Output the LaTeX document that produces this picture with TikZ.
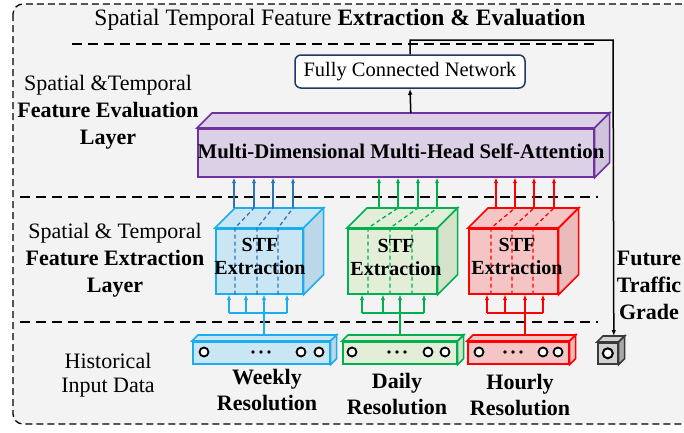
\documentclass[tikz,border=0pt]{standalone}
\usepackage{fontspec}
\setmainfont{Liberation Serif}
\usetikzlibrary{arrows.meta,calc}
\definecolor{bgc}{HTML}{F3F3F3}
\definecolor{bline}{HTML}{1AAEEE}
\definecolor{bfill}{HTML}{CAE6F4}
\definecolor{bside}{HTML}{BCD8E8}
\definecolor{barrow}{HTML}{2E75B6}
\definecolor{gline}{HTML}{00B050}
\definecolor{gfill}{HTML}{E2EED8}
\definecolor{gside}{HTML}{D5E3CA}
\definecolor{rline}{HTML}{FF0000}
\definecolor{rfill}{HTML}{F5C5C5}
\definecolor{rside}{HTML}{EBBBBB}
\definecolor{pline}{HTML}{7030A0}
\definecolor{pfill}{HTML}{DBD0E6}
\definecolor{pside}{HTML}{CFC4DC}
\definecolor{fcline}{HTML}{1F3864}
\definecolor{gyfill}{HTML}{C6C6C6}
\definecolor{gyline}{HTML}{3A3A3A}
% #1 name, #2 x, #3 y, #4 width, #5 height, #6 depth, #7 line, #8 fill, #9 side fill
\newcommand\mkcuboid[9]{%
  \node[draw=#7, fill=#8, line width=1.6pt, minimum width=#4pt, minimum height=#5pt,
        inner sep=0pt, anchor=north west] (#1) at (#2,#3) {};
  \draw[draw=#7, fill=#8, line width=1.6pt]
    (#1.north west) -- ++(#6,-#6) -- ($(#1.north east)+(#6,-#6)$) -- (#1.north east) -- cycle;
  \draw[draw=#7, fill=#9, line width=1.6pt]
    (#1.north east) -- ++(#6,-#6) -- ($(#1.south east)+(#6,-#6)$) -- (#1.south east) -- cycle;
}
\begin{document}
\begin{tikzpicture}[x=1pt,y=-1pt,
  sepline/.style={line width=2pt, dash pattern=on 10pt off 6pt},
  lbl/.style={align=center, font=\fontsize{22}{27}\selectfont, inner sep=0pt},
  conn/.style={line width=1.5pt, -{Latex[length=6pt,width=4.5pt]}},
  upar/.style={line width=1.6pt, -{Latex[length=5.5pt,width=4.5pt]}},
  inner dash/.style={line width=1.3pt, dash pattern=on 4pt off 3pt},
  io/.style={circle, draw=black, fill=white, line width=1.8pt, minimum size=9pt, inner sep=0pt},
  dotn/.style={circle, fill=black, minimum size=3.6pt, inner sep=0pt},
  stf/.style={align=center, font=\fontsize{20}{23}\selectfont\bfseries, inner sep=0pt}]
\useasboundingbox (0,0) rectangle (684,432);
\clip (0,0) rectangle (684,432);
% background frame
\draw[fill=bgc, line width=1.3pt, dash pattern=on 7pt off 4pt, rounded corners=10pt]
  (13,4) rectangle (720,424);
% separators
\coordinate (s1a) at (72,44);  \coordinate (s1b) at (598,44);
\coordinate (s2a) at (20,197); \coordinate (s2b) at (598,197);
\coordinate (s3a) at (20,322); \coordinate (s3b) at (598,322);
\draw[sepline] (s1a) -- (s1b);
\draw[sepline] (s2a) -- (s2b);
\draw[sepline] (s3a) -- (s3b);
% title and side labels
\node[inner sep=0pt, font=\fontsize{23.5}{27}\selectfont] (title) at (340,20)
  {Spatial Temporal Feature \textbf{Extraction \& Evaluation}};
\node[lbl] (lab1) at (108,112) {Spatial \&Temporal\\\textbf{Feature Evaluation}\\\textbf{Layer}};
\node[lbl] (lab2) at (115,260) {Spatial \& Temporal\\\textbf{Feature Extraction}\\\textbf{Layer}};
\node[lbl, font=\fontsize{22}{24}\selectfont] (lab3) at (108,375) {Historical\\Input Data};
\node[lbl, font=\fontsize{22}{26}\selectfont\bfseries] (wk) at (267,390) {Weekly\\Resolution};
\node[lbl, font=\fontsize{22}{26}\selectfont\bfseries] (dy) at (397,394) {Daily\\Resolution};
\node[lbl, font=\fontsize{22}{26}\selectfont\bfseries] (hr) at (520,395) {Hourly\\Resolution};
\node[lbl, font=\fontsize{22}{27}\selectfont\bfseries] (fut) at (649,285) {Future\\Traffic\\Grade};
% fully connected network
\node[draw=fcline, fill=white, line width=1.5pt, rounded corners=6pt, minimum width=230pt,
      minimum height=33pt, inner sep=0pt, font=\fontsize{20.5}{24}\selectfont] (fc) at (410,71.5)
  {Fully Connected Network};
% MHSA
\mkcuboid{mhsa}{197}{128}{396}{48}{15}{pline}{pfill}{pside}
\node[inner sep=0pt, font=\fontsize{20.8}{24}\selectfont\bfseries] (mhsat) at (401,151)
  {Multi-Dimensional Multi-Head Self-Attention};
\draw[conn] ($(mhsa.north)+(15,-15)$) -- (fc.south);
% gray output cube
\mkcuboid{gy}{597}{342}{20}{21}{6}{gyline}{gyfill!80!white}{gyfill!85!black}
\node[io, minimum size=10pt, line width=2pt] (gyc) at (gy.center) {};
\coordinate (tr) at (613,40);
\coordinate (gtop) at ($(gy.north)+(6,-6)$);
\draw[conn] (fc.north) |- (tr) -- (gtop);
% STF cubes
\mkcuboid{bc}{215}{228}{87}{65}{20}{bline}{bfill}{bside}
\mkcuboid{gc}{347}{228}{89}{65}{20}{gline}{gfill}{gside}
\mkcuboid{rc}{468}{228}{89}{65}{20}{rline}{rfill}{rside}
% inner dashed paths and upward arrows
\foreach \f/\a in {235/254, 257/273, 278/293}{
  \draw[inner dash, barrow] (\f,0 |- bc.south) -- (\f,0 |- bc.north) -- (\a,208);}
\foreach \a in {234,254,273,293}{
  \draw[upar, barrow] (\a,208) -- (\a,0 |- mhsa.south);}
\foreach \f/\a in {368/398, 390/418, 412/437}{
  \draw[inner dash, gline] (\f,0 |- gc.south) -- (\f,0 |- gc.north) -- (\a,208);}
\foreach \a in {379,398,418,437}{
  \draw[upar, gline] (\a,208) -- (\a,0 |- mhsa.south);}
\foreach \f/\a in {491/515, 512/534, 533/554}{
  \draw[inner dash, rline] (\f,0 |- rc.south) -- (\f,0 |- rc.north) -- (\a,208);}
\foreach \a in {496,515,534,554}{
  \draw[upar, rline] (\a,208) -- (\a,0 |- mhsa.south);}
\node[stf] (bct) at (260,256) {STF\\Extraction};
\node[stf] (gct) at (396,257) {STF\\Extraction};
\node[stf] (rct) at (517,256) {STF\\Extraction};
% input boxes
\mkcuboid{bin}{192}{341}{137}{22}{6}{bline}{bfill}{bside}
\mkcuboid{gin}{342}{341}{114}{22}{6}{gline}{gfill}{gside}
\mkcuboid{rin}{467}{341}{101}{22}{6}{rline}{rfill}{rside}
\foreach \x [count=\i] in {204,301,319}{\node[io] (bio\i) at (\x,352) {};}
\foreach \x [count=\i] in {253,261,269}{\node[dotn] (bdt\i) at (\x,352) {};}
\foreach \x [count=\i] in {352,428,445}{\node[io] (gio\i) at (\x,352) {};}
\foreach \x [count=\i] in {389,397,405}{\node[dotn] (gdt\i) at (\x,352) {};}
\foreach \x [count=\i] in {479,543,558}{\node[io] (rio\i) at (\x,352) {};}
\foreach \x [count=\i] in {505,513,521}{\node[dotn] (rdt\i) at (\x,352) {};}
% forks from inputs to cubes
\coordinate (bj) at (264,313);
\draw[bline, line width=2.6pt] (264,335) -- (bj);
\draw[bline, line width=1.5pt] (229,313) -- (287,313);
\foreach \x in {229,246,287}{\draw[upar, line width=1.5pt, bline] (\x,313) -- (\x,0 |- bc.south);}
\draw[upar, line width=2.4pt, bline] (bj) -- (264,0 |- bc.south);
\coordinate (gj) at (400,313);
\draw[gline, line width=2.6pt] (400,335) -- (gj);
\draw[gline, line width=1.5pt] (362,313) -- (424,313);
\foreach \x in {362,383,424}{\draw[upar, line width=1.5pt, gline] (\x,313) -- (\x,0 |- gc.south);}
\draw[upar, line width=2.4pt, gline] (gj) -- (400,0 |- gc.south);
\coordinate (rj) at (525,313);
\draw[rline, line width=2.6pt] (525,335) -- (rj);
\draw[rline, line width=1.5pt] (487,313) -- (543,313);
\foreach \x in {487,505,543}{\draw[upar, line width=1.5pt, rline] (\x,313) -- (\x,0 |- rc.south);}
\draw[upar, line width=2.4pt, rline] (rj) -- (525,0 |- rc.south);
\end{tikzpicture}
\end{document}
